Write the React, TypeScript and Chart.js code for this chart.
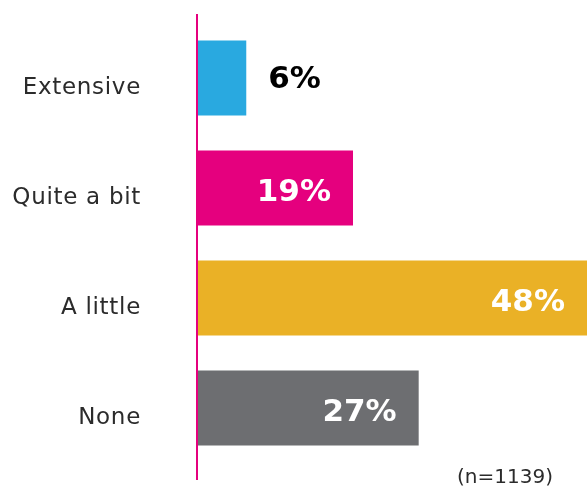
import React, { useEffect, useRef } from "react";
import { Chart, registerables } from "chart.js";

Chart.register(...registerables);

const categories = ["Extensive", "Quite a bit", "A little", "None"];
const values = [6, 19, 48, 27];
const valueLabels = ["6%", "19%", "48%", "27%"];
const barColors = ["#29A9E0", "#E5007E", "#EAB126", "#6D6E71"];
const labelColors = ["#000000", "#FFFFFF", "#FFFFFF", "#FFFFFF"];
const sampleNote = "(n=1139)";

const valuePlugin = {
  id: "valueLabels",
  beforeDraw(chart: any) {
    (chart.ctx as any).letterSpacing = "0.7px";
  },
  beforeDatasetsDraw(chart: any) {
    (chart.ctx as any).letterSpacing = "0px";
  },
  afterDatasetsDraw(chart: any) {
    const ctx = chart.ctx;
    const area = chart.chartArea;
    const meta = chart.getDatasetMeta(0);
    ctx.save();
    (ctx as any).letterSpacing = "0px";
    // axis line
    ctx.strokeStyle = "#E5007E";
    ctx.lineWidth = 2;
    ctx.beginPath();
    ctx.moveTo(area.left, area.top - 9);
    ctx.lineTo(area.left, area.bottom + 17);
    ctx.stroke();
    ctx.font = "bold 31px 'DejaVu Sans', sans-serif";
    ctx.textBaseline = "alphabetic";
    meta.data.forEach((bar: any, i: number) => {
      const end = Math.min(bar.x, area.right);
      ctx.fillStyle = labelColors[i];
      if (values[i] < 10) {
        ctx.textAlign = "left";
        ctx.fillText(valueLabels[i], end + 22, bar.y + 10);
      } else {
        ctx.textAlign = "right";
        ctx.fillText(valueLabels[i], end - 22, bar.y + 13);
      }
    });
    ctx.restore();
  },
};

export default function App() {
  const ref = useRef<HTMLCanvasElement | null>(null);
  useEffect(() => {
    if (!ref.current) return;
    const chart = new Chart(ref.current, {
      type: "bar",
      data: {
        labels: categories,
        datasets: [
          {
            data: values,
            backgroundColor: barColors,
            borderWidth: 0,
            categoryPercentage: 1,
            barPercentage: 0.68,
          },
        ],
      },
      options: {
        indexAxis: "y",
        animation: false,
        responsive: true,
        maintainAspectRatio: false,
        layout: { padding: { top: 23, bottom: 25, right: 0, left: 0 } },
        plugins: { legend: { display: false }, tooltip: { enabled: false } },
        scales: {
          x: { display: false, min: 0, max: 47.5 },
          y: {
            border: { display: false },
            grid: { display: false, drawTicks: false },
            ticks: {
              padding: 56,
              labelOffset: 10,
              color: "#2B2B2B",
              font: { family: "'DejaVu Sans', sans-serif", size: 23 },
            },
            afterFit(scale: any) {
              scale.width = 197;
              scale.paddingTop = 0;
              scale.paddingBottom = 0;
            },
          },
        },
      },
      plugins: [valuePlugin],
    });
    return () => chart.destroy();
  }, []);
  return (
    <div style={{ position: "fixed", left: 0, top: 0, width: 587, height: 488, background: "#fff" }}>
      <div style={{ position: "absolute", left: 0, top: 0, width: 587, height: 488 }}>
        <canvas ref={ref} />
      </div>
      <div
        style={{
          position: "absolute",
          left: 457,
          top: 462,
          fontFamily: "'DejaVu Sans', sans-serif",
          fontSize: 20,
          lineHeight: "28px",
          color: "#2B2B2B",
        }}
      >
        {sampleNote}
      </div>
    </div>
  );
}
